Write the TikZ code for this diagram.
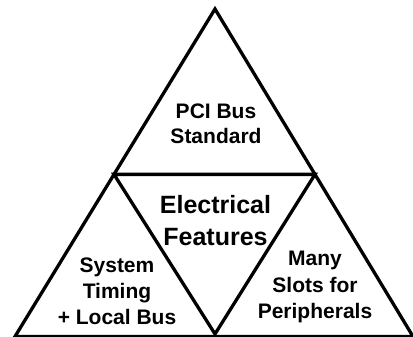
\documentclass[tikz,border=0pt]{standalone}
\usepackage{fontspec}
\setmainfont{Liberation Sans}
\usetikzlibrary{calc}
\begin{document}
\begin{tikzpicture}[x=1pt,y=-1pt,
  edge/.style={line width=3.3pt,line join=miter,black},
  small/.style={font=\fontsize{21}{26}\selectfont\bfseries,inner sep=0pt,anchor=base},
  big/.style={font=\fontsize{25}{30}\selectfont\bfseries,inner sep=0pt,anchor=base}]
\useasboundingbox (0,0) rectangle (413,337);
\coordinate (A) at (215,9);
\coordinate (BL) at (15,336.5);
\coordinate (BR) at (413,336.5);
\coordinate (ML) at ($(A)!0.505!(BL)$);
\coordinate (MR) at ($(A)!0.505!(BR)$);
\coordinate (MB) at (215,334);
\draw[edge] (A) -- (BL) -- (BR) -- cycle;
\draw[edge] (ML) -- (MR) -- (MB) -- cycle;
\node[small] (t1) at (216,119) {PCI Bus};
\node[small] (t2) at (216,144) {Standard};
\node[big] (e1) at (215.5,213) {Electrical};
\node[big] (e2) at (215.5,245) {Features};
\node[small] (s1) at (117,272) {System};
\node[small] (s2) at (117,298) {Timing};
\node[small] (s3) at (117,324) {+ Local Bus};
\node[small] (m1) at (315,265) {Many};
\node[small] (m2) at (315,292) {Slots for};
\node[small] (m3) at (315,318) {Peripherals};
\end{tikzpicture}
\end{document}
